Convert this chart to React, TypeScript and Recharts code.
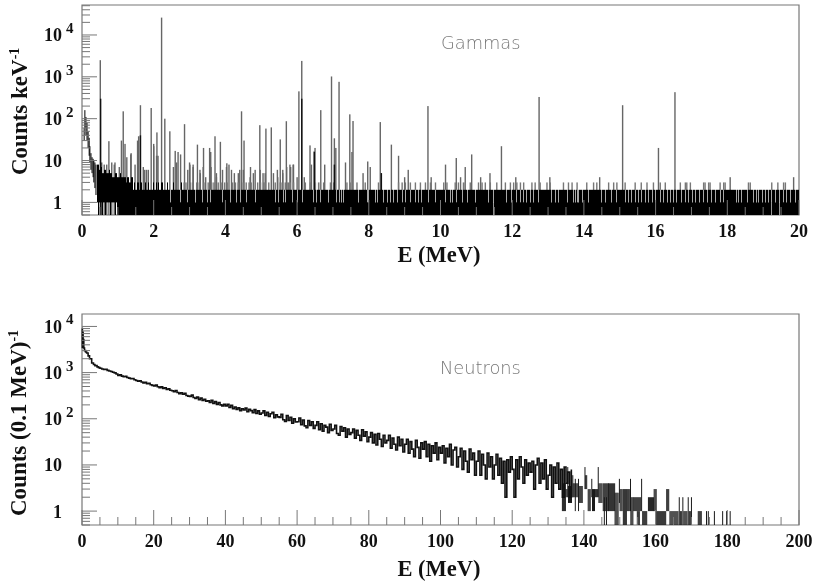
import { ComposedChart, Bar, Line, XAxis, YAxis, ReferenceArea } from 'recharts'

// gamma spectrum: tall lines, [MeV, counts]
const gammaPeaks = [
  [0.51, 2500], [0.62, 8], [0.75, 29], [0.9, 8], [1.1, 30], [1.15, 150], [1.2, 25], [1.37, 15], [1.55, 30],
  [1.63, 210], [1.75, 6], [1.85, 6], [1.93, 180], [1.58, 38], [2.0, 25], [2.09, 47], [2.12, 13], [2.22, 26000],
  [2.31, 100], [2.45, 50], [2.6, 17], [2.68, 16], [2.75, 14], [2.86, 74], [2.95, 6], [3.0, 9], [3.1, 7],
  [3.22, 24], [3.3, 5], [3.39, 20], [3.45, 4], [3.56, 20], [3.6, 7], [3.71, 38], [3.75, 5], [3.86, 28],
  [4.04, 8.6], [4.1, 8], [4.25, 5], [4.4, 6], [4.45, 150], [4.52, 30], [4.7, 7], [4.83, 6], [4.96, 70],
  [5.05, 5], [5.13, 58], [5.28, 62], [5.45, 6], [5.53, 32], [5.6, 5], [5.7, 87], [5.82, 7], [5.9, 8],
  [6.0, 4], [6.05, 450], [6.13, 2400], [6.2, 4], [6.36, 23], [6.4, 8], [6.48, 17], [6.5, 20], [6.66, 160],
  [6.77, 8], [6.96, 1020], [7.04, 34], [7.08, 20], [7.17, 760], [7.35, 9], [7.47, 127], [7.53, 16], [7.56, 88],
  [7.84, 5], [7.97, 9.5], [8.04, 7], [8.32, 83], [8.35, 5], [8.63, 24], [8.83, 13], [9.0, 4], [9.1, 6],
  [9.65, 200], [9.74, 4], [10.14, 8], [10.44, 11.5], [10.56, 4], [10.69, 7], [10.87, 14], [11.12, 4],
  [11.38, 5], [11.7, 22], [12.1, 4], [12.75, 330], [13.05, 4], [14.44, 4], [15.08, 210], [16.08, 20],
  [16.54, 430], [18.08, 4], [19.85, 4],
]
// smaller lines among the dense low-energy part, [MeV, counts]
const gammaSmall = [
  [0.55, 9], [0.69, 8], [0.83, 9], [0.92, 9], [1.04, 7], [1.25, 12], [1.36, 14], [1.48, 8], [1.57, 13], [1.71, 7],
  [1.8, 6], [2.0, 22], [2.08, 13], [2.55, 7], [2.64, 9], [3.01, 8], [3.1, 8], [3.29, 6], [3.38, 7], [3.59, 16],
  [3.75, 4], [3.92, 6], [4.03, 7], [4.17, 6], [4.36, 5], [4.5, 6], [4.69, 4], [4.78, 5], [4.97, 6], [5.11, 5],
  [5.34, 5], [5.46, 4], [5.6, 6], [5.71, 7], [5.8, 8], [5.89, 8],
]
// the dark core of the strongest lines
const gammaDarkPeaks = [[0.52, 300], [1.63, 40], [6.13, 300], [6.48, 16], [7.04, 8], [8.35, 5]]

// low lines reaching 3 counts
const gammaThree = [
  2.85, 2.9, 3.02, 3.08, 3.2, 3.27, 3.4, 3.52, 3.62, 3.68, 3.8, 3.88, 3.98, 4.05, 4.2, 4.28, 4.36, 4.5, 4.58,
  4.66, 4.72, 4.9, 4.98, 5.07, 5.11, 5.21, 5.39, 5.53, 5.58, 5.67, 5.72, 5.76, 5.81, 5.9, 6.23, 6.37, 6.51, 6.6,
  6.65, 6.74, 6.93, 7.02, 7.39, 7.48, 7.67, 7.9, 8.27, 8.83, 8.93, 9.02, 9.16, 9.3, 9.44, 9.58, 9.72, 9.86,
  10.09, 10.18, 10.41, 10.5, 10.64, 10.69, 10.83, 11.06, 11.16, 11.25, 11.39, 11.57, 11.81, 11.95, 12.04, 12.13,
  12.23, 12.32, 12.55, 12.64, 12.78, 12.97, 13.06, 13.43, 13.57, 13.67, 13.81, 14.08, 14.27, 14.36, 14.69, 14.83,
  14.92, 15.15, 15.43, 15.6, 15.76, 15.94, 16.13, 16.27, 16.69, 16.83, 16.87, 16.97, 17.34, 17.38, 17.48, 17.52,
  17.8, 17.9, 17.94, 18.59, 18.64, 19.24, 19.41, 19.57, 19.62,
]

// columns that stay at 1 count inside the dark band
const gammaOneOnly = [
  2.46, 2.74, 2.93, 3.16, 3.35, 3.49, 3.58, 3.91, 4.14, 4.32, 4.42, 4.6, 4.84, 5.39, 5.49, 5.62, 5.69, 5.86, 6.0,
  6.14, 6.46, 6.55, 6.65, 6.88, 7.11, 7.18, 7.23, 7.3, 7.72, 7.95, 7.98, 8.18, 8.23, 8.41, 8.51, 8.6, 8.69, 8.79,
  8.93, 9.02, 9.16, 9.3, 9.39, 9.48, 9.67, 9.86, 10.13, 10.27, 10.34, 10.46, 10.6, 10.74, 10.97, 11.34, 11.48,
  11.85, 11.99, 12.13, 12.23, 12.32, 12.41, 12.5, 12.6, 12.74, 13.11, 13.2, 13.29, 13.53, 13.71, 13.76, 13.81,
  13.85, 13.95, 14.13, 14.5, 14.6, 14.78, 14.92, 15.15, 15.25, 15.34, 15.43, 15.52, 15.62, 15.71, 15.8, 15.9,
  15.99, 16.13, 16.22, 16.32, 16.41, 16.5, 16.59, 16.73, 16.83, 16.92, 17.03, 17.12, 17.22, 17.34, 17.46, 17.57,
  17.68, 17.8, 17.9, 18.27, 18.31, 18.41, 18.55, 18.73, 18.81, 18.87, 18.97, 19.06, 19.15, 19.24, 19.34, 19.45,
  19.57, 19.66, 19.76, 19.89,
]
// columns that only reach 2 counts in the 3-count stretch
const gammaTwoOnly = [
  1.45, 1.49, 1.52, 1.6, 1.68, 1.71, 1.74, 1.8, 1.84, 1.88, 1.95, 1.98, 2.03, 2.06, 2.1, 2.16, 2.19, 2.26, 2.29, 2.34,
  2.37, 2.4, 2.43, 2.47, 2.5, 2.53, 2.57, 2.6, 2.63, 2.66, 2.69, 2.72, 2.76,
]
const gammaFloorGaps = [11.48, 19.24, 19.45]
const gammaFloorLines = [0.45, 0.56, 0.66, 0.8, 0.93]

// falling edge at low energy, [MeV, top, bottom]
const gammaHead = [
  [0.06, 60, 30], [0.08, 160, 60], [0.11, 110, 40], [0.14, 80, 30], [0.17, 50, 20], [0.2, 35, 13], [0.22, 22, 9],
  [0.25, 15, 6], [0.28, 12, 5], [0.31, 11, 4], [0.33, 10, 3], [0.36, 9, 2.2], [0.39, 8, 1.5],
]
// top of the dark band, [from MeV, counts]
const gammaEnvelope = [
  [0.42, 8], [0.47, 6], [0.52, 7], [0.56, 5], [0.62, 6], [0.68, 5], [0.74, 6], [0.78, 5], [0.85, 4], [0.92, 5],
  [0.98, 4], [1.05, 5], [1.1, 4], [1.22, 3], [1.26, 4], [1.3, 3], [1.36, 4], [1.42, 3], [1.9, 2], [1.94, 3], [2.8, 2],
]

// neutron spectrum below 5 MeV, [MeV, counts]
const neutronHead = [
  [0, 9000], [0.1, 3500], [0.2, 7500], [0.3, 3600], [0.4, 5200], [0.5, 3400], [0.7, 3000], [1, 2800], [1.3, 2650],
  [1.7, 2300], [2.1, 2000], [2.7, 1620], [3.2, 1500], [3.6, 1420], [4.2, 1330], [4.6, 1280],
]
// neutron counts every 0.5 MeV from 5 MeV on
const neutronCounts = [
  1245, 1200, 1165, 1180, 1120, 1085, 1060, 1020, 985, 930,
  870, 895, 840, 815, 830, 785, 760, 735, 745, 700,
  675, 650, 665, 625, 600, 615, 575, 590, 545, 530,
  515, 535, 495, 470, 490, 455, 470, 430, 445, 415,
  405, 385, 410, 370, 350, 365, 340, 355, 320, 310,
  305, 325, 290, 275, 295, 260, 280, 250, 265, 240,
  245, 225, 250, 215, 235, 205, 225, 200, 190, 205,
  190, 205, 175, 195, 165, 180, 160, 172, 150, 165,
  155, 170, 142, 160, 150, 135, 158, 130, 148, 125,
  133, 148, 118, 138, 112, 128, 138, 105, 122, 110,
  107, 125, 95, 88, 118, 92, 108, 80, 100, 85,
  86, 104, 74, 94, 70, 64, 92, 72, 86, 62,
  72, 86, 58, 78, 54, 72, 66, 50, 76, 56,
  60, 72, 48, 44, 68, 54, 64, 40, 60, 46,
  50, 60, 38, 56, 44, 34, 58, 42, 52, 32,
  40, 50, 30, 46, 27, 48, 36, 25, 44, 30,
  34, 44, 23, 38, 28, 21, 40, 26, 36, 19,
  28, 36, 18, 32, 22, 15, 34, 24, 14, 30,
  22, 32, 15, 28, 12, 26, 18, 30, 13, 24,
  18, 26, 11, 23, 15, 28, 10, 21, 24, 9,
  15, 23, 8, 20, 12, 7, 22, 13, 18, 6,
  12, 20, 6, 17, 10, 5, 18, 9, 15, 5,
  10, 17, 6, 14, 4, 12, 2, 13, 7, 15,
  8, 2, 13, 5, 15, 9, 4, 13, 6, 11,
  7, 12, 3, 10, 14, 4, 11, 5, 13, 3,
  6, 10, 2, 9, 4, 11, 3, 8, 2, 9,
  4, 7, 2, 8,
]
// sparse tail, [from MeV, to MeV, top, bottom]
const neutronTail = [
  [134, 135, 4, 1], [135, 135.4, 3, 2], [135.5, 135.5, 9, 2], [135.7, 136.8, 3.5, 1.5], [136.9, 136.9, 6, 2],
  [137, 137.6, 4, 2], [137.6, 137.6, 5, 1], [137.8, 138.4, 4, 2], [138.5, 138.5, 5, 1], [138.7, 139.8, 3.5, 1.5],
  [140.3, 140.3, 9, 3], [140.5, 141, 6, 3], [141.2, 142, 3, 1], [142.2, 142.2, 5, 2], [142.4, 143.1, 3, 1],
  [143.2, 143.8, 3, 2], [144, 144, 9, 2], [144.2, 145.3, 4, 1.5], [145.4, 146.8, 4, 1], [145.7, 145.7, 2, 0.5],
  [146.3, 146.3, 2, 0.5], [146.9, 148.6, 4, 1], [148.7, 149.7, 2.5, 0.5], [149.9, 149.9, 5, 1.5], [150.1, 150.9, 3, 1],
  [151, 152, 3, 0.5], [152.1, 152.9, 3, 1], [153, 153, 5, 1], [153.1, 153.8, 2, 0.5], [153.9, 156, 2, 1],
  [154.9, 155.5, 1, 0.5], [156.1, 156.1, 5, 1], [156.4, 157.7, 1, 0.5], [158, 159.5, 2, 1], [159.6, 160.2, 3, 1],
  [160.3, 163, 1, 0.5], [163.1, 163.8, 3, 1], [164, 166.3, 1, 0.5], [166.6, 166.6, 2, 0.5], [166.9, 167.4, 1, 0.5],
  [167.6, 167.6, 2, 0.5], [167.9, 168.9, 1, 0.5], [169.1, 169.1, 2, 0.5], [169.4, 169.8, 1, 0.5], [170, 170, 2, 0.5],
  [171.9, 172.9, 1, 0.5], [174.2, 174.2, 1, 0.5], [174.7, 174.7, 1, 0.5], [176.4, 176.6, 1, 0.5], [178.7, 178.9, 1, 0.5],
  [179.8, 179.8, 1, 0.5], [180.8, 180.8, 1, 0.5],
]

const gammaXTicks = Array.from({ length: 41 }, (_, i) => i * 0.5)
const neutronXTicks = Array.from({ length: 41 }, (_, i) => i * 5)
const gammaYTicks = [
  0.5, 0.6, 0.7, 0.8, 0.9, 1, 2, 3, 4, 5, 6, 7, 8, 9, 10, 20, 30, 40, 50, 60, 70, 80, 90, 100, 200, 300, 400, 500, 600,
  700, 800, 900, 1000, 2000, 3000, 4000, 5000, 6000, 7000, 8000, 9000, 10000, 20000, 30000, 40000, 50000,
]
const neutronYTicks = gammaYTicks.filter((v) => v <= 10000)
const decadeExponent: Record<number, string> = { 100: '2', 1000: '3', 10000: '4' }

const PLOT_LEFT = 82
const SERIF = '"Liberation Serif", serif'
const FRAME = '#777'

const gammaColumn = 1 / 35.85
const neutronColumn = 1 / 3.585

function buildGammaRows() {
  const rows: any[] = []
  const spike = (e: number, hi: number, fill: string, w: number) => rows.push({ e, lo: 0.5, hi, fill, w })
  gammaPeaks.forEach(([e, c]) => spike(e, c, '#666', 1.4))
  gammaSmall.forEach(([e, c]) => spike(e, c, '#666', 1.4))
  gammaThree.forEach((e) => spike(e, 3, '#777', 1.4))
  gammaDarkPeaks.forEach(([e, c]) => spike(e, c, '#111', 1.4))
  gammaHead.forEach(([e, hi, lo]) => rows.push({ e, lo, hi, fill: '#000' }))
  const near = (list: number[], e: number) => list.some((g) => Math.abs(g - e) < gammaColumn / 2)
  for (let i = 0; i < 717; i++) {
    const e = (i + 0.5) * gammaColumn
    if (e < gammaEnvelope[0][0]) continue
    let level = 2
    gammaEnvelope.forEach(([from, c]) => {
      if (e >= from) level = c
    })
    if (near(gammaTwoOnly, e)) level = 2
    if (near(gammaOneOnly, e)) level = 1
    let lo = e < 0.97 ? 1 : 0.5
    if (near(gammaFloorLines, e)) lo = 0.5
    if (level === 1) rows.push({ e, lo: 1, hi: 2, fill: '#a8a8a8' })
    if (near(gammaFloorGaps, e)) {
      rows.push({ e, lo: 0.5, hi: 1, fill: '#999' })
      continue
    }
    rows.push({ e, lo, hi: level, fill: '#000' })
  }
  return rows
}

function buildNeutronRows() {
  const rows: any[] = neutronHead.map(([e, counts]) => ({ e, counts }))
  neutronCounts.forEach((counts, i) => rows.push({ e: 5 + i * 0.5, counts }))
  neutronTail.forEach(([from, to, hi, lo]) => {
    rows.push({ e: from, lo, hi, fill: '#1a1a1a' })
    for (let e = from + neutronColumn; e < to; e += neutronColumn) rows.push({ e, lo, hi, fill: '#1a1a1a' })
  })
  return rows
}

const gammaRows = buildGammaRows()
const neutronRows = buildNeutronRows()

// a histogram column about a pixel wide, whatever band the number axis hands out
function Column({ x, y, width, height, payload }: any) {
  if (height == null || !payload.fill) return <g />
  const w = payload.w ?? 1
  return <rect x={x + width / 2 - w / 2} y={y} width={w} height={height} fill={payload.fill} />
}

function XTick({ x, payload, bottom, labelEvery, baseline, majorEvery }: any) {
  const major = payload.value % majorEvery === 0
  return (
    <g>
      <line x1={x} x2={x} y1={bottom} y2={bottom - (major ? 15 : 8)} stroke={FRAME} strokeWidth={1} />
      {payload.value % labelEvery === 0 && (
        <text x={x} y={baseline} textAnchor="middle" fontFamily={SERIF} fontWeight="bold" fontSize={18} fill="#111">
          {payload.value}
        </text>
      )}
    </g>
  )
}

function YTick({ y, payload }: any) {
  const v = payload.value
  const major = [1, 10, 100, 1000, 10000].includes(v)
  return (
    <g>
      <line x1={PLOT_LEFT} x2={PLOT_LEFT + (major ? 15 : 8)} y1={y} y2={y} stroke={FRAME} strokeWidth={1} />
      {major && (
        <text x={62} y={y + 6.5} textAnchor="end" fontFamily={SERIF} fontWeight="bold" fontSize={18} fill="#111">
          {v === 1 ? '1' : '10'}
        </text>
      )}
      {decadeExponent[v] && (
        <text x={66} y={y - 2} fontFamily={SERIF} fontWeight="bold" fontSize={15} fill="#111">
          {decadeExponent[v]}
        </text>
      )}
    </g>
  )
}

function Note({ x, y, children }: any) {
  return (
    <text x={x} y={y} fontFamily='"DejaVu Sans", sans-serif' fontWeight={200} fontSize={17.8} fill="#777">
      {children}
    </text>
  )
}

function XTitle({ y }: any) {
  return (
    <text x={439} y={y} textAnchor="middle" fontFamily={SERIF} fontWeight="bold" fontSize={22.5} fill="#111">
      E (MeV)
    </text>
  )
}

function YTitle({ x, y, label }: any) {
  return (
    <text transform={`translate(${x},${y}) rotate(-90)`} fontFamily={SERIF} fontWeight="bold" fontSize={23} fill="#111">
      {label}
      <tspan fontSize={14} dy={-8}>
        -1
      </tspan>
    </text>
  )
}

export default function App() {
  return (
    <div
      style={{
        position: 'absolute',
        left: 0,
        top: 0,
        width: 816,
        height: 584,
        background: '#fff',
        overflow: 'hidden',
        filter: 'blur(0.35px)',
      }}
    >
      <div style={{ position: 'absolute', left: 0, top: 0 }}>
        <ComposedChart width={816} height={290} data={gammaRows} margin={{ top: 5, right: 17, bottom: 0, left: 0 }}>
          <XAxis
            dataKey="e"
            type="number"
            domain={[0, 20]}
            ticks={gammaXTicks}
            interval={0}
            height={75}
            tickLine={false}
            axisLine={false}
            tick={(p: any) => <XTick {...p} bottom={215} baseline={237} labelEvery={2} majorEvery={2} />}
          />
          <YAxis
            type="number"
            scale="log"
            domain={[0.5, 52000]}
            allowDataOverflow
            ticks={gammaYTicks}
            interval={0}
            width={82}
            tickLine={false}
            axisLine={false}
            tick={(p: any) => <YTick {...p} />}
          />
          <ReferenceArea x1={0} x2={20} y1={0.5} y2={52000} fill="none" stroke={FRAME} strokeWidth={1.2} ifOverflow="visible" />
          <Bar dataKey={(d: any) => [d.lo, d.hi]} shape={<Column />} isAnimationActive={false} />
          <Note x={441} y={49}>
            Gammas
          </Note>
          <XTitle y={262} />
          <YTitle x={27} y={175} label="Counts keV" />
        </ComposedChart>
      </div>
      <div style={{ position: 'absolute', left: 0, top: 300 }}>
        <ComposedChart width={816} height={284} data={neutronRows} margin={{ top: 14, right: 17, bottom: 0, left: 0 }}>
          <XAxis
            dataKey="e"
            type="number"
            domain={[0, 200]}
            ticks={neutronXTicks}
            interval={0}
            height={59}
            tickLine={false}
            axisLine={false}
            tick={(p: any) => <XTick {...p} bottom={225} baseline={247} labelEvery={20} majorEvery={20} />}
          />
          <YAxis
            type="number"
            scale="log"
            domain={[0.5, 18600]}
            allowDataOverflow
            ticks={neutronYTicks}
            interval={0}
            width={82}
            tickLine={false}
            axisLine={false}
            tick={(p: any) => <YTick {...p} />}
          />
          <ReferenceArea x1={0} x2={200} y1={0.5} y2={18600} fill="none" stroke={FRAME} strokeWidth={1.2} ifOverflow="visible" />
          <Line dataKey="counts" type="stepAfter" stroke="#111" strokeWidth={1.6} dot={false} isAnimationActive={false} />
          <Bar dataKey={(d: any) => (d.hi ? [d.lo, d.hi] : null)} shape={<Column />} isAnimationActive={false} />
          <Note x={440} y={74}>
            Neutrons
          </Note>
          <XTitle y={276} />
          <YTitle x={26} y={216} label="Counts (0.1 MeV)" />
        </ComposedChart>
      </div>
    </div>
  )
}
